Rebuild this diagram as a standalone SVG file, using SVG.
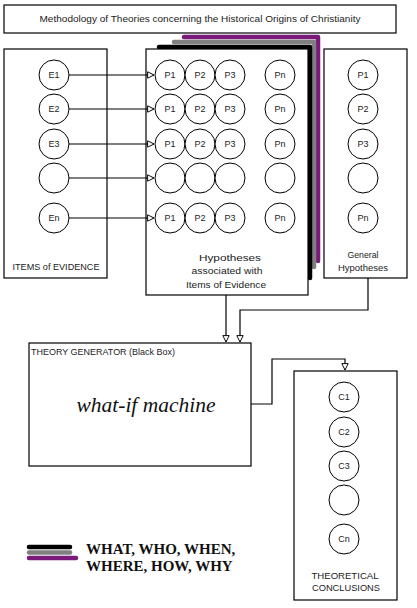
<svg xmlns="http://www.w3.org/2000/svg" width="417" height="608" viewBox="0 0 417 608">
<defs>
<style>
.box{fill:#fff;stroke:#000;stroke-width:1.2}
.c{fill:#fff;stroke:#000;stroke-width:1}
.t{font-family:"Liberation Sans",Arial,sans-serif;font-size:9px;fill:#222;text-anchor:middle}
.tl{font-family:"Liberation Sans",Arial,sans-serif;font-size:9px;fill:#222}
.conn{fill:none;stroke:#000;stroke-width:1.2}
.sh{fill:none;stroke-width:4.5;stroke-linecap:round;stroke-linejoin:round}
.serif{font-family:"Liberation Serif","Times New Roman",serif;fill:#111}
</style>
<marker id="arr" viewBox="0 0 10 10" refX="9" refY="5" markerWidth="8" markerHeight="8" markerUnits="userSpaceOnUse" orient="auto">
<path d="M1,1 L9,5 L1,9 Z" fill="#fff" stroke="#000" stroke-width="1.2"/>
</marker>
</defs>
<rect width="417" height="608" fill="#fff"/>

<g id="title">
<rect class="box" x="4" y="5" width="392" height="28"/>
<text class="t" x="200" y="22" textLength="321" lengthAdjust="spacingAndGlyphs">Methodology of Theories concerning the Historical Origins of Christianity</text>
</g>

<g id="shadows">
<path class="sh" stroke="#7a1a7a" d="M184,37 H318 V261"/>
<path class="sh" stroke="#808080" d="M174,42 H314 V267"/>
<path class="sh" stroke="#000" d="M159,47 H310 V278"/>
</g>

<g id="evidence">
<rect class="box" x="4" y="49" width="103" height="229"/>
<circle class="c" cx="54" cy="75" r="15"/><text class="t" x="54" y="78">E1</text>
<circle class="c" cx="54" cy="109" r="15"/><text class="t" x="54" y="112">E2</text>
<circle class="c" cx="54" cy="144" r="15"/><text class="t" x="54" y="147">E3</text>
<circle class="c" cx="54" cy="178" r="15"/>
<circle class="c" cx="54" cy="218" r="15"/><text class="t" x="54" y="221">En</text>
<text class="t" x="56" y="270" textLength="87" lengthAdjust="spacingAndGlyphs">ITEMS of EVIDENCE</text>
</g>

<g id="hypotheses">
<rect class="box" x="146" y="49" width="162" height="246"/>
<circle class="c" cx="170" cy="75" r="15"/><text class="t" x="170" y="78">P1</text>
<circle class="c" cx="200" cy="75" r="15"/><text class="t" x="200" y="78">P2</text>
<circle class="c" cx="230" cy="75" r="15"/><text class="t" x="230" y="78">P3</text>
<circle class="c" cx="280" cy="75" r="15"/><text class="t" x="280" y="78">Pn</text>
<circle class="c" cx="170" cy="109" r="15"/><text class="t" x="170" y="112">P1</text>
<circle class="c" cx="200" cy="109" r="15"/><text class="t" x="200" y="112">P2</text>
<circle class="c" cx="230" cy="109" r="15"/><text class="t" x="230" y="112">P3</text>
<circle class="c" cx="280" cy="109" r="15"/><text class="t" x="280" y="112">Pn</text>
<circle class="c" cx="170" cy="144" r="15"/><text class="t" x="170" y="147">P1</text>
<circle class="c" cx="200" cy="144" r="15"/><text class="t" x="200" y="147">P2</text>
<circle class="c" cx="230" cy="144" r="15"/><text class="t" x="230" y="147">P3</text>
<circle class="c" cx="280" cy="144" r="15"/><text class="t" x="280" y="147">Pn</text>
<circle class="c" cx="170" cy="178" r="15"/>
<circle class="c" cx="200" cy="178" r="15"/>
<circle class="c" cx="230" cy="178" r="15"/>
<circle class="c" cx="280" cy="178" r="15"/>
<circle class="c" cx="170" cy="218" r="15"/><text class="t" x="170" y="221">P1</text>
<circle class="c" cx="200" cy="218" r="15"/><text class="t" x="200" y="221">P2</text>
<circle class="c" cx="230" cy="218" r="15"/><text class="t" x="230" y="221">P3</text>
<circle class="c" cx="280" cy="218" r="15"/><text class="t" x="280" y="221">Pn</text>
<text class="t" x="230" y="261" textLength="62" lengthAdjust="spacingAndGlyphs">Hypotheses</text>
<text class="t" x="227" y="274" textLength="71" lengthAdjust="spacingAndGlyphs">associated with</text>
<text class="t" x="226" y="288" textLength="80" lengthAdjust="spacingAndGlyphs">Items of Evidence</text>
</g>

<g id="general">
<rect class="box" x="324" y="49" width="83" height="229"/>
<circle class="c" cx="363" cy="75" r="15"/><text class="t" x="363" y="78">P1</text>
<circle class="c" cx="363" cy="109" r="15"/><text class="t" x="363" y="112">P2</text>
<circle class="c" cx="363" cy="144" r="15"/><text class="t" x="363" y="147">P3</text>
<circle class="c" cx="363" cy="178" r="15"/>
<circle class="c" cx="363" cy="218" r="15"/><text class="t" x="363" y="221">Pn</text>
<text class="t" x="363" y="258" textLength="31" lengthAdjust="spacingAndGlyphs">General</text>
<text class="t" x="363" y="271" textLength="50" lengthAdjust="spacingAndGlyphs">Hypotheses</text>
</g>

<g id="generator">
<rect class="box" x="29" y="343" width="222" height="123"/>
<text class="tl" x="31" y="355" textLength="144" lengthAdjust="spacingAndGlyphs">THEORY GENERATOR (Black Box)</text>
<text class="serif" x="146" y="412" font-style="italic" font-size="21.5" text-anchor="middle">what-if machine</text>
</g>

<g id="conclusions">
<rect class="box" x="294" y="371" width="103" height="229"/>
<circle class="c" cx="344" cy="397" r="15"/><text class="t" x="344" y="400">C1</text>
<circle class="c" cx="344" cy="432" r="15"/><text class="t" x="344" y="435">C2</text>
<circle class="c" cx="344" cy="466" r="15"/><text class="t" x="344" y="469">C3</text>
<circle class="c" cx="344" cy="500" r="15"/>
<circle class="c" cx="344" cy="539" r="15"/><text class="t" x="344" y="542">Cn</text>
<text class="t" x="345" y="579" textLength="67" lengthAdjust="spacingAndGlyphs">THEORETICAL</text>
<text class="t" x="346" y="591" textLength="68" lengthAdjust="spacingAndGlyphs">CONCLUSIONS</text>
</g>

<g id="connectors">
<path class="conn" d="M69,75 H154" marker-end="url(#arr)"/>
<path class="conn" d="M69,109 H154" marker-end="url(#arr)"/>
<path class="conn" d="M69,144 H154" marker-end="url(#arr)"/>
<path class="conn" d="M69,178 H154" marker-end="url(#arr)"/>
<path class="conn" d="M69,218 H154" marker-end="url(#arr)"/>
<path class="conn" d="M226,295 V342" marker-end="url(#arr)"/>
<path class="conn" d="M368,278 V310 H240 V342" marker-end="url(#arr)"/>
<path class="conn" d="M251,404 H272 V359 H345 V370" marker-end="url(#arr)"/>
</g>

<g id="legend">
<path class="sh" stroke="#000" d="M29,547 H70"/>
<path class="sh" stroke="#808080" d="M29,552.5 H70"/>
<path class="sh" stroke="#7a1a7a" d="M29,558 H76"/>
<text class="serif" x="86" y="554" font-weight="bold" font-size="15">WHAT, WHO, WHEN,</text>
<text class="serif" x="86" y="571" font-weight="bold" font-size="15">WHERE, HOW, WHY</text>
</g>
</svg>
